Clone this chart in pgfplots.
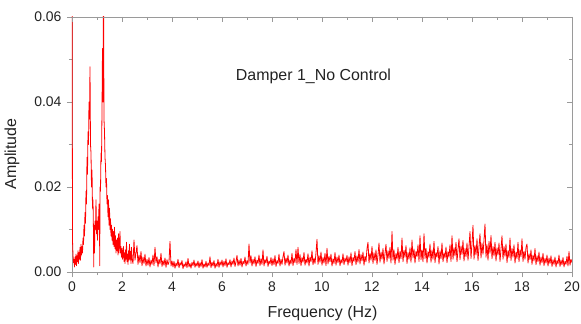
\documentclass[border=0pt]{standalone}
\usepackage{pgfplots}
\pgfplotsset{compat=1.18}
\usepackage{fontspec}
\setmainfont{Liberation Sans}
\definecolor{framegray}{HTML}{9A9A9A}
\definecolor{txt}{HTML}{222222}
\begin{document}
\begin{tikzpicture}
\useasboundingbox (-72bp,-52bp) rectangle (509bp,272bp);
\begin{axis}[
  scale only axis, width=500bp, height=255bp,
  xmin=0, xmax=20, ymin=0, ymax=0.06,
  axis x line*=bottom, axis y line*=left,
  tick align=outside,
  xtick={0,2,...,20}, minor x tick num=1,
  ytick={0,0.02,0.04,0.06}, minor y tick num=1,
  scaled y ticks=false,
  yticklabel style={xshift=-2bp, /pgf/number format/fixed, /pgf/number format/fixed zerofill, /pgf/number format/precision=2},
  /pgf/number format/assume math mode=true,
  axis line style={framegray, line width=0.9bp},
  tick style={framegray, line width=0.8bp},
  major tick length=5bp, minor tick length=3bp,
  ticklabel style={font=\fontsize{14}{16}\selectfont, text=txt},
  xticklabel style={yshift=-1bp},
  label style={font=\fontsize{16}{18}\selectfont, text=txt},
  xlabel={Frequency (Hz)}, ylabel={Amplitude},
  xlabel style={at={(axis description cs:0.501,-0.161)}, anchor=center},
  ylabel style={at={(axis description cs:-0.12,0.463)}, anchor=center},
]
\addplot[red, line width=0.8bp, line join=round] coordinates {
(0,0.08)(0.02,.0075)(0.04,.0040)(0.06,.0022)(0.08,.0030)(0.10,.0012)(0.12,.0035)(0.14,.0018)(0.16,.0042)(0.18,.0015)
(0.20,.0038)(0.22,.0024)(0.24,.0050)(0.26,.0020)(0.28,.0046)(0.30,.0030)(0.32,.0058)(0.34,.0028)(0.36,.0065)(0.38,.0040)
(0.40,.0060)(0.42,.0045)(0.44,.0080)(0.46,.0065)(0.48,.0110)(0.50,.0085)(0.52,.0140)(0.54,.0115)(0.56,.0190)(0.58,.0160)
(0.60,.0270)(0.62,.0230)(0.64,.0330)(0.66,.0300)(0.68,.0400)(0.70,.0360)(0.72,.0483)(0.74,.0300)(0.76,.0280)(0.78,.0200)
(0.80,.0240)(0.82,.0150)(0.84,.0170)(0.86,.0090)(0.87,.0012)(0.88,.0110)(0.90,.0045)(0.92,.0120)(0.94,.0100)(0.96,.0170)(0.98,.0090)
(1.00,.0120)(1.02,.0075)(1.04,.0130)(1.06,.0100)(1.08,.0160)(1.10,.0130)(1.11,.0015)(1.12,.0200)(1.14,.0190)(1.16,.0280)(1.18,.0260)
(1.20,.0380)(1.22,.0526)(1.24,.0400)(1.26,.0680)(1.28,.0360)(1.30,.0330)(1.32,.0270)(1.34,.0250)(1.36,.0200)(1.38,.0220)
(1.40,.0160)(1.42,.0180)(1.44,.0130)(1.46,.0170)(1.48,.0110)(1.50,.0150)(1.52,.0100)(1.54,.0125)(1.56,.0085)(1.58,.0110)
(1.60,.0075)(1.62,.0100)(1.64,.0065)(1.66,.0095)(1.68,.0060)(1.70,.0105)(1.72,.0055)(1.74,.0085)(1.76,.0045)(1.78,.0075)
(1.80,.0050)(1.82,.0080)(1.84,.0040)(1.86,.0090)(1.88,.0045)(1.90,.0070)(1.92,.0095)(1.94,.0045)(1.96,.0060)(1.98,.0035)
(2.00,.0055)(2.02,.0030)(2.04,.0048)(2.06,.0060)(2.08,.0025)(2.10,.0045)(2.12,.0020)(2.14,.0052)(2.16,.0030)(2.18,.0070)
(2.20,.0025)(2.22,.0042)(2.24,.0018)(2.26,.0050)(2.28,.0028)(2.30,.0065)(2.32,.0030)(2.34,.0048)(2.36,.0020)(2.38,.0058)
(2.40,.0032)
(2.44,.0020)(2.48,.0075)(2.52,.0028)(2.56,.0045)(2.60,.0062)(2.64,.0018)(2.68,.0040)(2.72,.0022)(2.76,.0048)(2.80,.0015)
(2.84,.0035)(2.88,.0020)(2.92,.0042)(2.96,.0014)(3.00,.0030)
(3.04,.0016)(3.08,.0034)(3.12,.0012)(3.16,.0028)(3.20,.0018)(3.24,.0040)(3.28,.0015)(3.32,.0058)(3.36,.0022)(3.40,.0036)
(3.44,.0012)(3.48,.0030)(3.52,.0019)(3.56,.0044)(3.60,.0013)(3.64,.0027)(3.68,.0016)(3.72,.0033)(3.76,.0011)(3.80,.0029)
(3.84,.0017)(3.88,.0024)(3.92,.0072)(3.96,.0014)(4.00,.0026)
(4.04,.0012)(4.08,.0025)(4.12,.0009)(4.16,.0021)(4.20,.0014)(4.24,.0030)(4.28,.0010)(4.32,.0022)(4.36,.0016)(4.40,.0027)
(4.44,.0008)(4.48,.0019)(4.52,.0013)(4.56,.0024)(4.60,.0010)(4.64,.0032)(4.68,.0012)(4.72,.0020)(4.76,.0009)(4.80,.0023)
(4.84,.0015)(4.88,.0028)(4.92,.0011)(4.96,.0021)(5.00,.0014)
(5.04,.0026)(5.08,.0010)(5.12,.0022)(5.16,.0013)(5.20,.0029)(5.24,.0009)(5.28,.0019)(5.32,.0012)(5.36,.0025)(5.40,.0011)
(5.44,.0021)(5.48,.0015)(5.52,.0036)(5.56,.0010)(5.60,.0023)(5.64,.0014)(5.68,.0027)(5.72,.0009)(5.76,.0020)(5.80,.0013)
(5.84,.0030)(5.88,.0011)(5.92,.0024)(5.96,.0016)(6.00,.0028)
(6.04,.0012)(6.08,.0025)(6.12,.0015)(6.16,.0031)(6.20,.0011)(6.24,.0022)(6.28,.0017)(6.32,.0029)(6.36,.0012)(6.40,.0026)
(6.44,.0018)(6.48,.0033)(6.52,.0013)(6.56,.0024)(6.60,.0039)(6.64,.0014)(6.68,.0028)(6.72,.0016)(6.76,.0032)(6.80,.0012)
(6.84,.0025)(6.88,.0019)(6.92,.0035)(6.96,.0014)(7.00,.0027)
(7.04,.0018)(7.08,.0066)(7.12,.0021)(7.16,.0038)(7.20,.0014)(7.24,.0030)(7.28,.0019)(7.32,.0036)(7.36,.0013)(7.40,.0028)
(7.44,.0020)(7.48,.0040)(7.52,.0015)(7.56,.0031)(7.60,.0018)(7.64,.0052)(7.68,.0014)(7.72,.0029)(7.76,.0021)(7.80,.0037)
(7.84,.0013)(7.88,.0026)(7.92,.0019)(7.96,.0034)(8.00,.0015)
(8.04,.0031)(8.08,.0017)(8.12,.0039)(8.16,.0013)(8.20,.0027)(8.24,.0020)(8.28,.0042)(8.32,.0014)(8.36,.0030)(8.40,.0018)
(8.44,.0036)(8.48,.0048)(8.52,.0016)(8.56,.0033)(8.60,.0021)(8.64,.0040)(8.68,.0014)(8.72,.0028)(8.76,.0019)(8.80,.0044)
(8.84,.0015)(8.88,.0032)(8.92,.0022)(8.96,.0053)(9.00,.0018)
(9.04,.0058)(9.08,.0020)(9.12,.0041)(9.16,.0015)(9.20,.0034)(9.24,.0023)(9.28,.0046)(9.32,.0016)(9.36,.0030)(9.40,.0021)
(9.44,.0043)(9.48,.0014)(9.52,.0035)(9.56,.0024)(9.60,.0050)(9.64,.0017)(9.68,.0033)(9.72,.0020)(9.76,.0045)(9.80,.0077)
(9.84,.0018)(9.88,.0038)(9.92,.0023)(9.96,.0047)(10.00,.0016)
(10.04,.0034)(10.08,.0021)(10.12,.0044)(10.16,.0015)(10.20,.0056)(10.24,.0019)(10.28,.0037)(10.32,.0024)(10.36,.0042)(10.40,.0014)
(10.44,.0031)(10.48,.0020)(10.52,.0046)(10.56,.0016)(10.60,.0035)(10.64,.0022)(10.68,.0040)(10.72,.0015)(10.76,.0029)(10.80,.0021)
(10.84,.0043)(10.88,.0017)(10.92,.0033)(10.96,.0024)(11.00,.0039)
(11.04,.0016)(11.08,.0036)(11.12,.0022)(11.16,.0045)(11.20,.0015)(11.24,.0034)(11.28,.0025)(11.32,.0048)(11.36,.0017)(11.40,.0038)
(11.44,.0023)(11.48,.0053)(11.52,.0019)(11.56,.0041)(11.60,.0026)(11.64,.0047)(11.68,.0016)(11.72,.0037)(11.76,.0024)(11.80,.0055)
(11.84,.0070)(11.88,.0021)(11.92,.0044)(11.96,.0028)(12.00,.0060)
(12.04,.0020)(12.08,.0045)(12.12,.0027)(12.16,.0052)(12.20,.0018)(12.24,.0040)(12.28,.0068)(12.32,.0023)(12.36,.0047)(12.40,.0030)
(12.44,.0055)(12.48,.0019)(12.52,.0043)(12.56,.0065)(12.60,.0025)(12.64,.0050)(12.68,.0032)(12.72,.0058)(12.76,.0021)(12.80,.0095)
(12.84,.0028)(12.88,.0052)(12.92,.0018)(12.96,.0044)(13.00,.0030)
(13.04,.0058)(13.08,.0022)(13.12,.0048)(13.16,.0031)(13.20,.0080)(13.24,.0024)(13.28,.0051)(13.32,.0035)(13.36,.0062)(13.40,.0020)
(13.44,.0046)(13.48,.0030)(13.52,.0057)(13.56,.0023)(13.60,.0075)(13.64,.0033)(13.68,.0054)(13.72,.0021)(13.76,.0049)(13.80,.0036)
(13.84,.0064)(13.88,.0025)(13.92,.0085)(13.96,.0029)(14.00,.0052)
(14.04,.0024)(14.08,.0090)(14.12,.0032)(14.16,.0056)(14.20,.0021)(14.24,.0048)(14.28,.0034)(14.32,.0066)(14.36,.0023)(14.40,.0052)
(14.44,.0030)(14.48,.0072)(14.52,.0022)(14.56,.0046)(14.60,.0035)(14.64,.0060)(14.68,.0019)(14.72,.0050)(14.76,.0031)(14.80,.0068)
(14.84,.0024)(14.88,.0045)(14.92,.0033)(14.96,.0059)(15.00,.0022)
(15.04,.0048)(15.08,.0035)(15.12,.0064)(15.16,.0025)(15.20,.0085)(15.24,.0030)(15.28,.0057)(15.32,.0038)(15.36,.0070)(15.40,.0024)
(15.44,.0053)(15.48,.0078)(15.52,.0029)(15.56,.0061)(15.60,.0041)(15.64,.0074)(15.68,.0026)(15.72,.0055)(15.76,.0036)(15.80,.0068)
(15.84,.0028)(15.88,.0059)(15.92,.0095)(15.96,.0032)(16.00,.0066)
(16.04,.0110)(16.08,.0030)(16.12,.0062)(16.16,.0040)(16.20,.0078)(16.24,.0027)(16.28,.0058)(16.32,.0090)(16.36,.0033)(16.40,.0068)
(16.44,.0042)(16.48,.0075)(16.52,.0113)(16.56,.0035)(16.60,.0064)(16.64,.0028)(16.68,.0072)(16.72,.0044)(16.76,.0086)(16.80,.0031)
(16.84,.0060)(16.88,.0038)(16.92,.0070)(16.96,.0026)(17.00,.0057)
(17.04,.0040)(17.08,.0068)(17.12,.0025)(17.16,.0054)(17.20,.0085)(17.24,.0030)(17.28,.0060)(17.32,.0037)(17.36,.0066)(17.40,.0022)
(17.44,.0050)(17.48,.0034)(17.52,.0080)(17.56,.0027)(17.60,.0056)(17.64,.0035)(17.68,.0064)(17.72,.0021)(17.76,.0047)(17.80,.0032)
(17.84,.0070)(17.88,.0024)(17.92,.0052)(17.96,.0036)(18.00,.0078)
(18.04,.0025)(18.08,.0049)(18.12,.0030)(18.16,.0058)(18.20,.0066)(18.24,.0021)(18.28,.0043)(18.32,.0029)(18.36,.0052)(18.40,.0018)
(18.44,.0040)(18.48,.0026)(18.52,.0055)(18.56,.0017)(18.60,.0038)(18.64,.0024)(18.68,.0047)(18.72,.0016)(18.76,.0035)(18.80,.0022)
(18.84,.0044)(18.88,.0015)(18.92,.0032)(18.96,.0021)(19.00,.0040)
(19.04,.0014)(19.08,.0033)(19.12,.0020)(19.16,.0038)(19.20,.0013)(19.24,.0029)(19.28,.0018)(19.32,.0035)(19.36,.0012)(19.40,.0027)
(19.44,.0019)(19.48,.0040)(19.52,.0013)(19.56,.0028)(19.60,.0017)(19.64,.0034)(19.68,.0012)(19.72,.0025)(19.76,.0018)(19.80,.0037)
(19.84,.0014)(19.88,.0048)(19.92,.0016)(19.96,.0030)(20.00,.0022)
};
\node[font=\fontsize{16}{18}\selectfont, text=txt] at (axis cs:9.66,0.0461) {Damper 1\_No Control};
\end{axis}
\begin{axis}[
  scale only axis, width=500bp, height=255bp,
  xmin=0, xmax=20, ymin=0, ymax=0.06,
  axis x line*=top, axis y line*=right,
  tick align=inside,
  scaled y ticks=false, scaled x ticks=false,
  xtick={0,2,...,20}, minor x tick num=1,
  ytick={0,0.02,0.04,0.06}, minor y tick num=1,
  xticklabels={}, yticklabels={},
  axis line style={framegray, line width=0.9bp},
  tick style={framegray, line width=0.8bp},
  major tick length=5bp, minor tick length=3bp,
]
\end{axis}
\end{tikzpicture}
\end{document}
